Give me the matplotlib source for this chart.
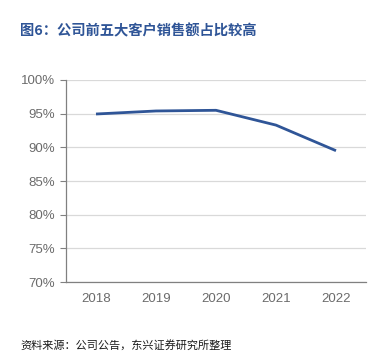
import matplotlib
matplotlib.use("Agg")
import matplotlib.pyplot as plt
from matplotlib.ticker import FuncFormatter

years = ["2018", "2019", "2020", "2021", "2022"]
share = [94.95, 95.4, 95.5, 93.3, 89.5]
yticks = [70, 75, 80, 85, 90, 95, 100]

title = "图6：公司前五大客户销售额占比较高"
source = "资料来源：公司公告，东兴证券研究所整理"

plt.rcParams['font.family'] = ['Liberation Sans', 'Noto Sans CJK SC', 'DejaVu Sans']

fig = plt.figure(figsize=(3.83, 3.6), dpi=100)
ax = fig.add_axes([66/383, 78/360, 300/383, 202/360])

x = list(range(len(years)))
ax.plot(x, share, color='#2F5597', linewidth=2.0, solid_capstyle='butt')

ax.set_xlim(-0.5, len(years) - 0.5)
ax.set_ylim(70, 100)
ax.set_yticks(yticks)
ax.yaxis.set_major_formatter(FuncFormatter(lambda v, p: f"{int(v)}%"))
ax.set_xticks(x)
ax.set_xticklabels(years)

ax.grid(axis='y', color='#D9D9D9', linewidth=0.9)
ax.set_axisbelow(True)
for s in ['top', 'right']:
    ax.spines[s].set_visible(False)
for s in ['left', 'bottom']:
    ax.spines[s].set_color('#808080')
    ax.spines[s].set_linewidth(0.9)

ax.tick_params(axis='y', length=4, color='#808080', labelcolor='#6b6b6b', labelsize=9.5, pad=4)
ax.tick_params(axis='x', length=0, labelcolor='#6b6b6b', labelsize=9.5, pad=8)

fig.text(20/383, 1 - 31/360, title, fontsize=10.3, fontweight='bold', color='#2F5597',
         family=['Noto Sans CJK SC', 'DejaVu Sans'], va='center', ha='left')
fig.text(20/383, 1 - 345/360, source, fontsize=8, color='#1a1a1a',
         family=['Noto Sans CJK SC', 'DejaVu Sans'], va='center', ha='left', style='italic')

fig.savefig("out.png", dpi=100)
